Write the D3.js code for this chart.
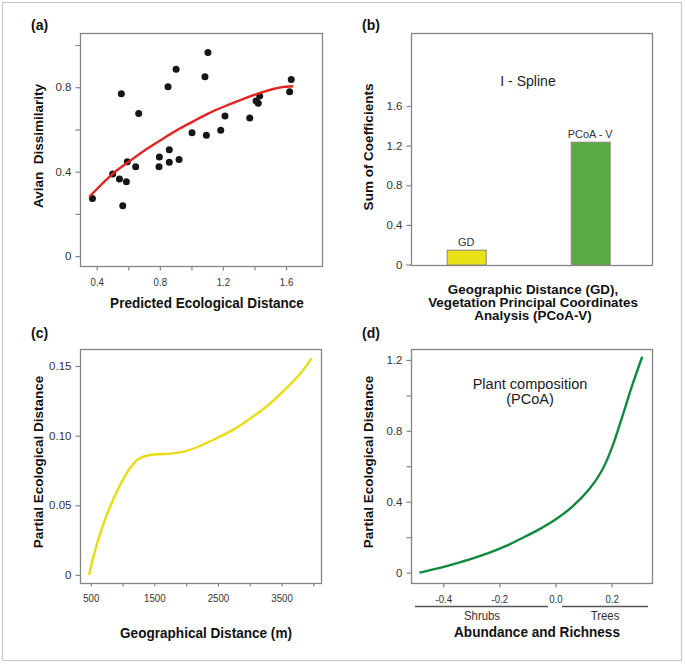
<!DOCTYPE html>
<html><head><meta charset="utf-8">
<script src="https://cdn.jsdelivr.net/npm/d3@7"></script>
<style>
body{margin:0;background:#fff}
svg{display:block}
text{font-family:"Liberation Sans",Arial,Helvetica,sans-serif;white-space:pre}
</style>
</head><body>
<svg id="fig" width="685" height="664"></svg>
<script>
// ---------------- DATA ----------------
// (a) scatter: predicted ecological distance vs avian dissimilarity
const predDist = [0.373,0.501,0.544,0.556,0.565,0.588,0.594,0.647,0.666,0.795,0.797,0.852,0.860,0.860,0.903,0.922,1.004,1.086,1.095,1.105,1.186,1.213,1.370,1.410,1.424,1.433,1.623,1.633];
const avianDiss = [0.273,0.389,0.365,0.769,0.238,0.352,0.447,0.423,0.676,0.423,0.469,0.802,0.504,0.445,0.885,0.458,0.584,0.850,0.572,0.965,0.596,0.664,0.654,0.735,0.724,0.758,0.779,0.837];
const fitX = [0.353,0.505,0.611,0.717,0.822,0.928,1.034,1.139,1.245,1.351,1.456,1.562,1.646];
const fitY = [0.281,0.392,0.451,0.507,0.557,0.605,0.647,0.687,0.720,0.751,0.778,0.799,0.805];
const aXTicks = [0.4,0.6,0.8,1.0,1.2,1.4,1.6];
const aXLabels = ["0.4","","0.8","","1.2","","1.6"];
const aYTicks = [0,0.2,0.4,0.6,0.8,1.0];
const aYLabels = ["0","","0.4","","0.8",""];

// (b) I-spline sum of coefficients
const barCats = ["GD","PCoA - V"];
const barVals = [0.15,1.24];
const bYTicks = [0,0.4,0.8,1.2,1.6];
const bYLabels = ["0","0.4","0.8","1.2","1.6"];

// (c) geographic distance partial effect
const gdX = [473,595,726,857,989,1121,1252,1436,1700,1962,2226,2489,2751,3015,3279,3541,3804,3973];
const gdY = [0,0.022,0.040,0.0545,0.067,0.077,0.0833,0.0861,0.0869,0.0885,0.0928,0.0983,0.1045,0.1125,0.1215,0.1325,0.1450,0.1555];
const cXTicks = [500,1000,1500,2000,2500,3000,3500,4000];
const cXLabels = ["500","","1500","","2500","","3500",""];
const cYTicks = [0,0.05,0.10,0.15];
const cYLabels = ["0","0.05","0.10","0.15"];

// (d) plant composition partial effect
const pcoaX = [-0.485,-0.42,-0.36,-0.30,-0.24,-0.18,-0.12,-0.06,0.0,0.06,0.12,0.165,0.20,0.236,0.271,0.309];
const pcoaY = [0,0.024,0.05,0.078,0.11,0.148,0.194,0.243,0.30,0.372,0.47,0.575,0.70,0.87,1.045,1.218];
const dXTicks = [-0.4,-0.2,0.0,0.2];
const dXLabels = ["-0.4","-0.2","0.0","0.2"];
const dYTicks = [0,0.2,0.4,0.6,0.8,1.0,1.2];
const dYLabels = ["0","","0.4","","0.8","","1.2"];

// ---------------- DRAWING ----------------
const svg = d3.select("#fig");
const BOX = "#858585", TICKC = "#858585", LBL = "#333", TTL = "#111";

svg.append("rect").attr("x",2.5).attr("y",2.5).attr("width",679).attr("height",658)
  .attr("fill","none").attr("stroke","#c9c9c9").attr("stroke-width",1.2);

function text(x, y, s, o = {}) {
  const size = o.size || 14, sx = o.sx || 0.97;
  let tr = `translate(${x},${y})`;
  if (o.rot) tr += ` rotate(-90)`; else tr += ` scale(${sx},1)`;
  return svg.append("text").attr("transform", tr)
    .attr("text-anchor", o.anchor || "middle")
    .attr("dy", "0.35em")
    .attr("font-size", size)
    .attr("font-weight", o.bold ? "bold" : "normal")
    .attr("fill", o.fill || TTL)
    .text(s);
}

function box(x0, y0, x1, y1) {
  svg.append("rect").attr("x", x0 + 0.5).attr("y", y0 + 0.5)
    .attr("width", x1 - x0).attr("height", y1 - y0)
    .attr("fill", "none").attr("stroke", BOX).attr("stroke-width", 1.3);
}

function yAxis(scale, x, ticks, labels) {
  const g = svg.append("g").attr("transform", `translate(${x + 0.5},0)`)
    .call(d3.axisLeft(scale).tickValues(ticks).tickSize(5).tickPadding(4)
      .tickFormat((d, i) => labels[i]));
  g.select(".domain").remove();
  g.selectAll("line").attr("stroke", TICKC).attr("stroke-width", 1.2);
  g.selectAll("text").attr("font-size", 11.5).attr("fill", LBL)
    .attr("font-family", '"Liberation Sans",Arial,sans-serif');
  return g;
}
function xAxis(scale, y, ticks, labels, size = 4, pad = 7) {
  const g = svg.append("g").attr("transform", `translate(0,${y + 0.5})`)
    .call(d3.axisBottom(scale).tickValues(ticks).tickSize(size).tickPadding(pad)
      .tickFormat((d, i) => labels[i]));
  g.select(".domain").remove();
  g.selectAll("line").attr("stroke", TICKC).attr("stroke-width", 1.2);
  g.selectAll("text").attr("font-size", 10.5).attr("fill", LBL)
    .attr("transform", "scale(0.92,1)")
    .attr("font-family", '"Liberation Sans",Arial,sans-serif');
  return g;
}
const smooth = d3.curveCatmullRom.alpha(0.5);

// ---- (a) ----
{
  const x = d3.scaleLinear().domain([0.294, 1.828]).range([80, 322]);
  const y = d3.scaleLinear().domain([-0.047, 1.057]).range([266, 33]);
  box(80, 33, 322, 266);
  yAxis(y, 80, aYTicks, aYLabels);
  xAxis(x, 266, aXTicks, aXLabels, 4, 8);
  svg.append("g").selectAll("circle").data(predDist.map((d, i) => [d, avianDiss[i]]))
    .join("circle").attr("cx", d => x(d[0])).attr("cy", d => y(d[1])).attr("r", 3.5)
    .attr("fill", "#161616");
  const line = d3.line().x(d => x(d[0])).y(d => y(d[1])).curve(smooth);
  svg.append("path").attr("d", line(fitX.map((d, i) => [d, fitY[i]])))
    .attr("fill", "none").attr("stroke", "#e3241f").attr("stroke-width", 2.4);
  text(31, 25, "(a)", {bold: true, size: 14, anchor: "start", sx: 1});
  text(38, 146, "Avian  Dissimilarity", {bold: true, size: 13.5, rot: true});
  text(207, 303, "Predicted Ecological Distance", {bold: true, size: 14});
}

// ---- (b) ----
{
  const x = d3.scaleBand().domain(barCats).range([411, 652.3])
    .paddingInner(0.6855).paddingOuter(0.3157).align(0.456);
  const y = d3.scaleLinear().domain([-0.005, 2.334]).range([265, 33.3]);
  box(411, 33, 652, 265);
  yAxis(y, 411, bYTicks, bYLabels);
  const colors = ["#e9e018", "#5aaa44"];
  svg.append("g").selectAll("rect").data(barCats).join("rect")
    .attr("x", d => x(d) + 0.5).attr("width", x.bandwidth())
    .attr("y", (d, i) => y(barVals[i]) + 0.5)
    .attr("height", (d, i) => y(0) - y(barVals[i]))
    .attr("fill", (d, i) => colors[i]).attr("stroke", "#8a8a7a").attr("stroke-width", 1);
  svg.append("g").selectAll("text").data(barCats).join("text")
    .attr("transform", (d, i) => `translate(${x(d) + x.bandwidth() / 2},${y(barVals[i]) - 4}) scale(0.95,1)`)
    .attr("text-anchor", "middle").attr("font-size", 11.5).attr("fill", LBL)
    .text(d => d);
  text(362, 25, "(b)", {bold: true, size: 14, anchor: "start", sx: 1});
  text(528, 80.5, "I - Spline", {size: 14.5, fill: "#222"});
  text(368, 147, "Sum of Coefficients", {bold: true, size: 13.5, rot: true});
  text(533, 289.5, "Geographic Distance (GD),", {bold: true, size: 13, sx: 1.03});
  text(533, 302.5, "Vegetation Principal Coordinates", {bold: true, size: 13, sx: 1.03});
  text(533, 315.5, "Analysis (PCoA-V)", {bold: true, size: 13, sx: 1.03});
}

// ---- (c) ----
{
  const x = d3.scaleLinear().domain([331, 4121]).range([80, 321]);
  const y = d3.scaleLinear().domain([-0.006, 0.162]).range([583.3, 349.3]);
  box(80, 349, 321, 583);
  yAxis(y, 80, cYTicks, cYLabels);
  xAxis(x, 583, cXTicks, cXLabels, 3, 8);
  const line = d3.line().x(d => x(d[0])).y(d => y(d[1])).curve(smooth);
  svg.append("path").attr("d", line(gdX.map((d, i) => [d, gdY[i]])))
    .attr("fill", "none").attr("stroke", "#e8dc14").attr("stroke-width", 2.4);
  text(31, 333, "(c)", {bold: true, size: 14, anchor: "start", sx: 1});
  text(38, 462, "Partial Ecological Distance", {bold: true, size: 13.5, rot: true});
  text(206, 633, "Geographical Distance (m)", {bold: true, size: 14});
}

// ---- (d) ----
{
  const x = d3.scaleLinear().domain([-0.515, 0.345]).range([411, 652.3]);
  const y = d3.scaleLinear().domain([-0.06, 1.260]).range([583.3, 349.3]);
  box(411, 349, 652, 583);
  yAxis(y, 411, dYTicks, dYLabels);
  xAxis(x, 583, dXTicks, dXLabels, 4, 8);
  const line = d3.line().x(d => x(d[0])).y(d => y(d[1])).curve(smooth);
  svg.append("path").attr("d", line(pcoaX.map((d, i) => [d, pcoaY[i]])))
    .attr("fill", "none").attr("stroke", "#128a3e").attr("stroke-width", 2.4);
  // group lines under axis
  svg.append("line").attr("x1", 415).attr("x2", 548).attr("y1", 606.5).attr("y2", 606.5)
    .attr("stroke", "#555").attr("stroke-width", 1.6);
  svg.append("line").attr("x1", 562).attr("x2", 648).attr("y1", 606.5).attr("y2", 606.5)
    .attr("stroke", "#555").attr("stroke-width", 1.6);
  text(482, 615.5, "Shrubs", {size: 12, fill: LBL, sx: 0.95});
  text(605, 615.5, "Trees", {size: 12, fill: LBL, sx: 0.95});
  text(537, 632, "Abundance and Richness", {bold: true, size: 14});
  text(530, 384, "Plant composition", {size: 15, fill: "#222"});
  text(530, 398.5, "(PCoA)", {size: 15, fill: "#222"});
  text(362, 333, "(d)", {bold: true, size: 14, anchor: "start", sx: 1});
  text(368, 462, "Partial Ecological Distance", {bold: true, size: 13.5, rot: true});
}
</script>
</body></html>
